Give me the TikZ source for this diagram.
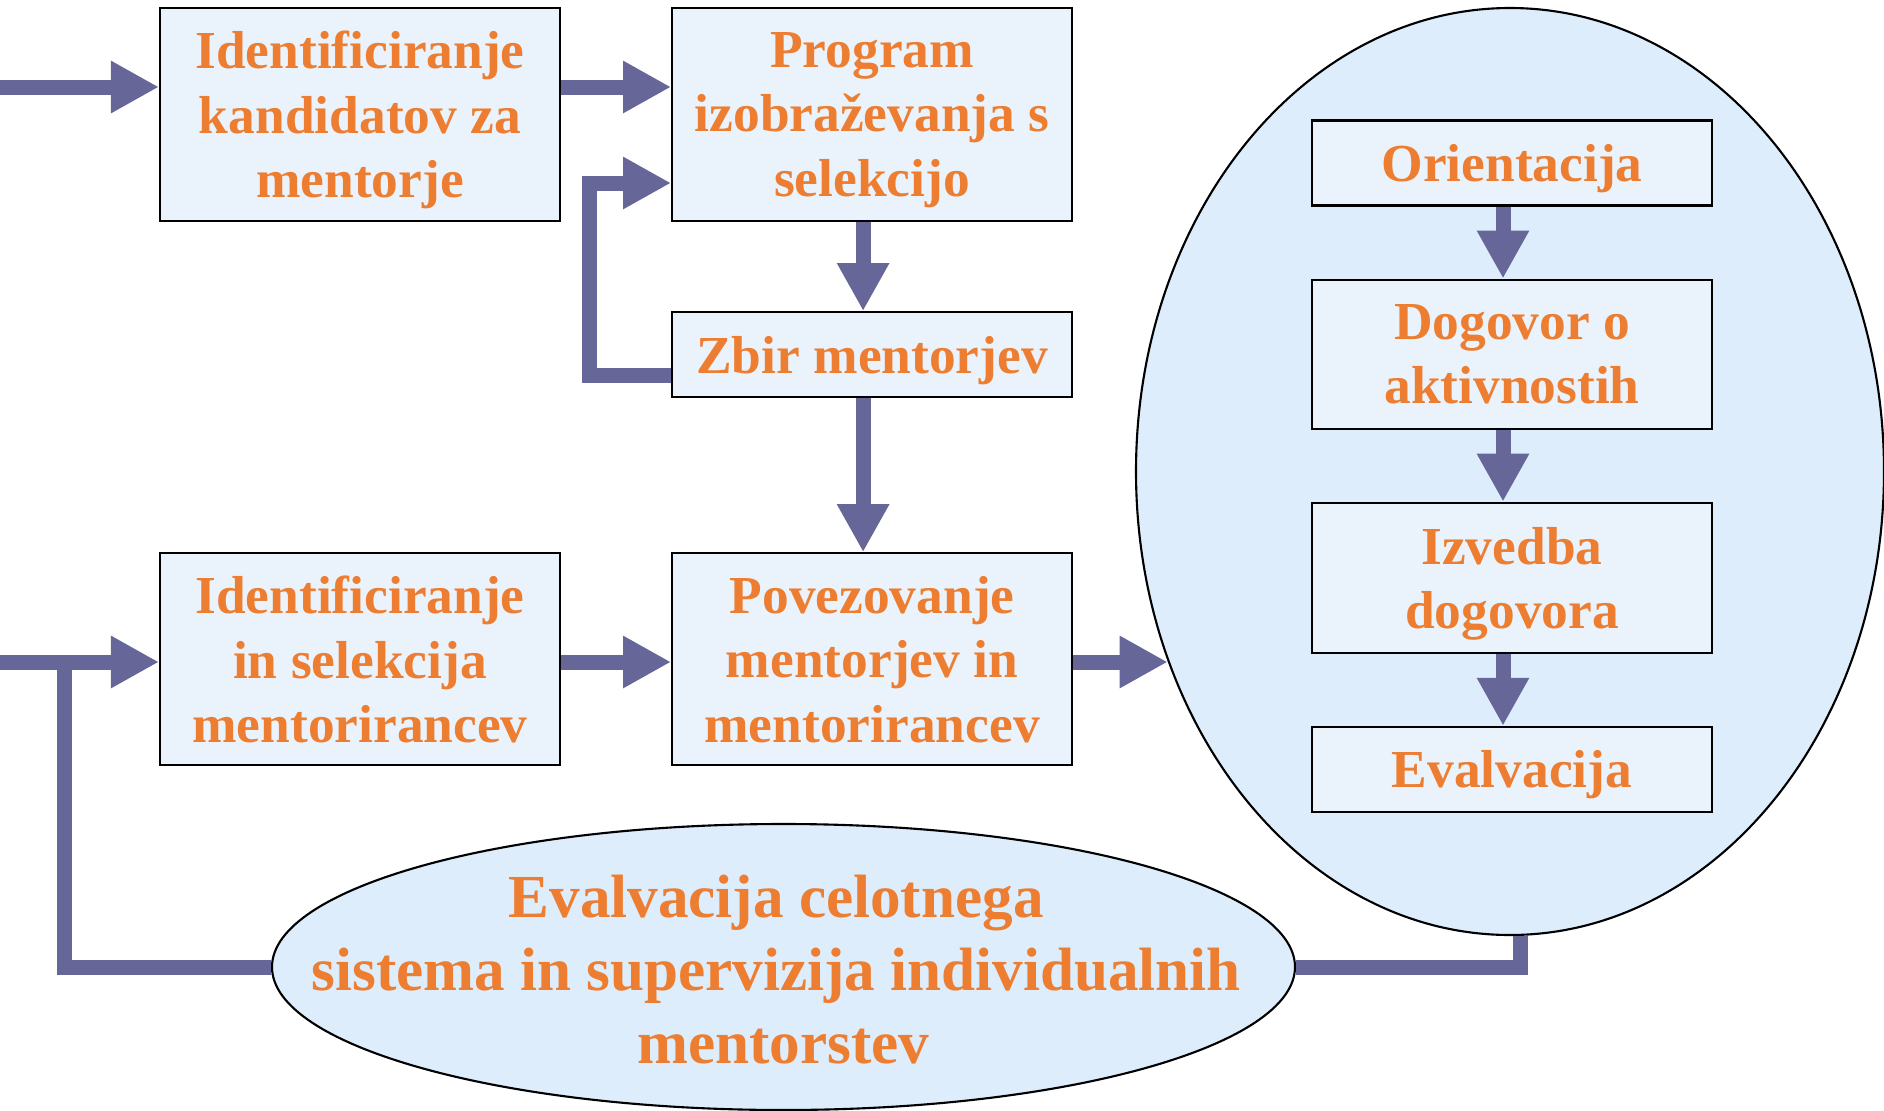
\documentclass[tikz,border=0pt]{standalone}
\usepackage{fontspec}
\setmainfont{Liberation Serif}
\usetikzlibrary{positioning, shapes.geometric, arrows.meta}
\definecolor{tokmodra}{HTML}{666699}
\definecolor{napis}{HTML}{ED7D31}
\definecolor{polnilo}{HTML}{EAF3FC}
\definecolor{elipsa}{HTML}{DDEDFB}
\tikzset{
    korak/.style={draw=black, line width=0.6pt, fill=polnilo, minimum width=4cm, inner sep=0pt,
        text depth=0pt, align=center, text=napis, font=\bfseries\fontsize{15.2}{18.3}\selectfont},
    tok/.style={draw=tokmodra, line width=1.5mm, -{Triangle[length=4.8mm,width=4.9mm]}},
    linija/.style={draw=tokmodra, line width=1.5mm},
}

\begin{document}
\begin{tikzpicture}[node distance=0.72cm]
                \useasboundingbox (0,0) rectangle (18.84,-11.11);
                \node[korak, minimum height=2.13cm] (kandidati) at (3.6,-1.145) {Identificiranje\\kandidatov za\\mentorje};
                \node[korak, minimum height=2.13cm, right=1.10cm of kandidati] (program) {Program\\izobraževanja s\\selekcijo};
                \node[korak, minimum height=0.85cm, below=0.89cm of program] (zbir) {Zbir mentorjev};
                \node[korak, minimum height=2.12cm, below=1.54cm of zbir] (povezovanje) {Povezovanje\\mentorjev in\\mentorirancev};
                \node[korak, minimum height=2.12cm, left=1.10cm of povezovanje] (mentoriranci) {Identificiranje\\in selekcija\\mentorirancev};
                \node[ellipse, draw=black, line width=0.6pt, fill=elipsa, inner sep=0pt,
                    minimum width=7.48cm, minimum height=9.27cm] (cikel) at (15.1,-4.715) {};
                \node[korak, minimum height=0.85cm] (orientacija) at (15.12,-1.63) {Orientacija};
                \node[korak, minimum height=1.49cm, below=of orientacija] (dogovor) {Dogovor o\\aktivnostih};
                \node[korak, minimum height=1.50cm, below=of dogovor] (izvedba) {Izvedba\\dogovora};
                \node[korak, minimum height=0.85cm, below=of izvedba] (evalvacija) {Evalvacija};
                \node[ellipse, draw=black, line width=0.6pt, fill=elipsa, inner sep=0pt,
                    minimum width=10.23cm, minimum height=2.86cm,
                    label={[align=center, text=napis, yshift=-0.025cm,
                        font=\bfseries\fontsize{17.4}{20.7}\selectfont]center:Evalvacija celotnega\rule{0.24em}{0pt}\\sistema in supervizija individualnih\rule{0.24em}{0pt}\\mentorstev}] (celota) at (7.835,-9.67) {};
                \coordinate (vhod1) at (0,-0.87);
                \coordinate (vhod2) at (0,-6.62);
                \coordinate (razcep) at (0.65,-6.62);
                \draw[tok] (vhod1) -- (vhod1 -| kandidati.west);
                \draw[tok] (vhod1 -| kandidati.east) -- (vhod1 -| program.west);
                \draw[tok] ([yshift=-0.205cm]zbir.west) -- ++(-0.82,0) |- ([yshift=-0.685cm]program.west);
                \draw[tok] ([xshift=-0.09cm]program.south) -- ([xshift=-0.09cm]zbir.north);
                \draw[tok] ([xshift=-0.09cm]zbir.south) -- ([xshift=-0.09cm]povezovanje.north);
                \draw[tok] (vhod2) -- (vhod2 -| mentoriranci.west);
                \draw[tok] (vhod2 -| mentoriranci.east) -- (vhod2 -| povezovanje.west);
                \draw[tok] (vhod2 -| povezovanje.east) -- (vhod2 -| cikel.209);
                \foreach \a/\b in {orientacija/dogovor, dogovor/izvedba, izvedba/evalvacija}
                    \draw[tok] ([xshift=-0.09cm]\a.south) -- ([xshift=-0.09cm]\b.north);
                \draw[linija] ([xshift=0.1cm]cikel.south) |- (celota.east);
                \draw[linija] (celota.west) -| (razcep);
            \end{tikzpicture}
\end{document}
